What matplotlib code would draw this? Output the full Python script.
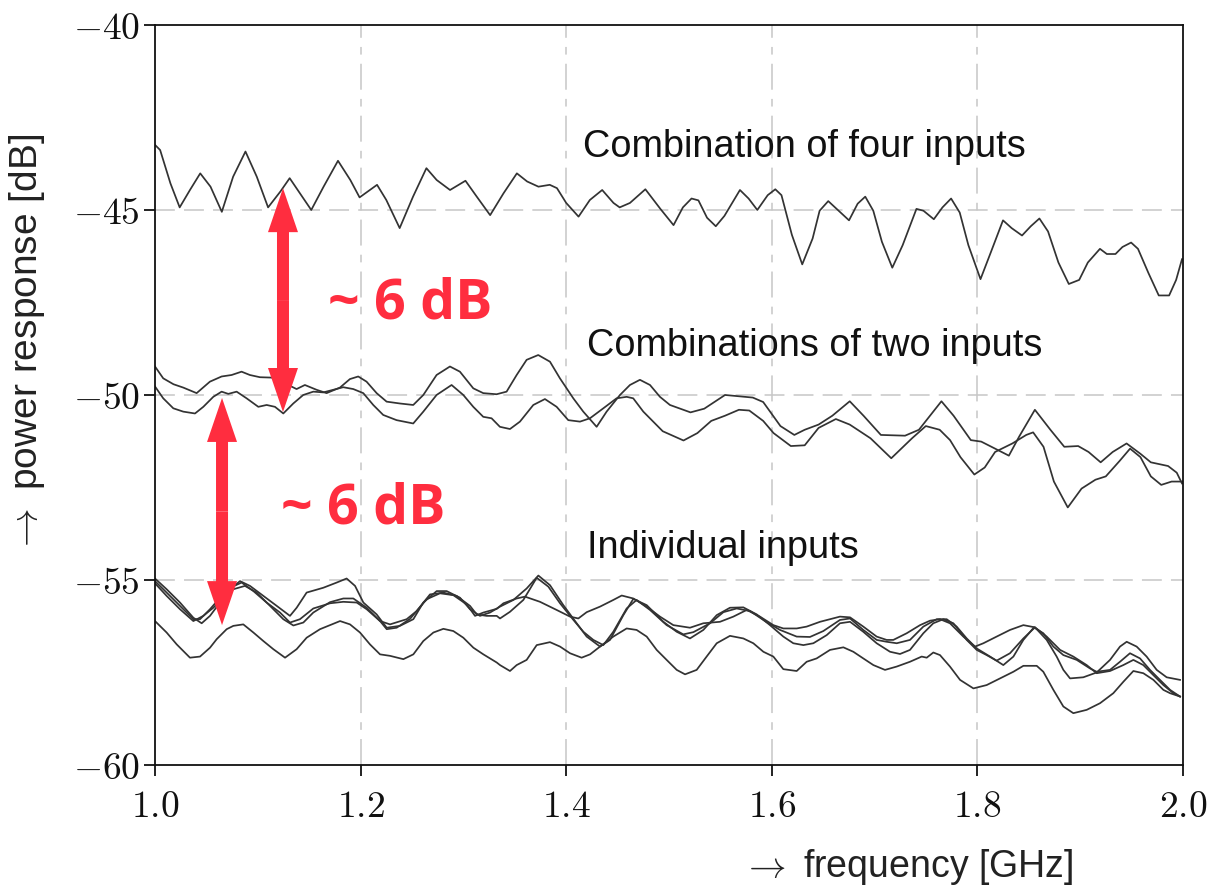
import matplotlib

matplotlib.use("Agg")
import matplotlib.pyplot as plt
from matplotlib.patches import FancyArrow
from matplotlib.ticker import FuncFormatter

plt.rcParams["mathtext.fontset"] = "cm"
plt.rcParams["font.family"] = ["Liberation Sans", "DejaVu Sans"]

# frequency [GHz] / power response [dB]
four_f = [1.000, 1.005, 1.015, 1.024, 1.034, 1.044, 1.054, 1.065, 1.076, 1.088,
          1.099, 1.110, 1.122, 1.131, 1.141, 1.152, 1.164, 1.178, 1.190, 1.199,
          1.216, 1.225, 1.238, 1.251, 1.264, 1.274, 1.287, 1.302, 1.313, 1.326,
          1.339, 1.352, 1.362, 1.373, 1.384, 1.391, 1.400, 1.412, 1.423, 1.435,
          1.446, 1.452, 1.462, 1.477,
          1.4916, 1.5044, 1.5135, 1.5219, 1.5286, 1.5370, 1.5455, 1.5539, 1.5690, 1.5774,
          1.5859, 1.5960, 1.6034, 1.6094, 1.6195, 1.6296, 1.6397, 1.6465, 1.6549, 1.6650,
          1.6751, 1.6835, 1.6909, 1.6987, 1.7071, 1.7172, 1.7273, 1.7407, 1.7475, 1.7576,
          1.7660, 1.7744, 1.7828, 1.7912, 1.8030, 1.8131, 1.8249, 1.8333, 1.8434, 1.8519,
          1.8603, 1.8687, 1.8788, 1.8889, 1.8990, 1.9074, 1.9192, 1.9259, 1.9343, 1.9411,
          1.9495, 1.9562, 1.9663, 1.9764, 1.9865, 1.9933, 1.9990]
four_db = [-43.24, -43.38, -44.28, -44.93, -44.46, -44.01, -44.37, -45.05, -44.10, -43.42,
           -44.10, -44.93, -44.50, -44.14, -44.55, -45.00, -44.37, -43.67, -44.19, -44.66,
           -44.32, -44.73, -45.49, -44.64, -43.87, -44.19, -44.46, -44.21, -44.64, -45.14,
           -44.55, -44.01, -44.23, -44.37, -44.32, -44.41, -44.81, -45.18, -44.73, -44.46,
           -44.81, -44.93, -44.81, -44.44,
           -44.97, -45.41, -44.93, -44.69, -44.74, -45.21, -45.44, -45.16, -44.46, -44.69,
           -45.00, -44.60, -44.44, -44.60, -45.67, -46.47, -45.77, -45.02, -44.76, -45.02,
           -45.28, -44.83, -44.64, -45.02, -45.86, -46.56, -45.95, -44.97, -45.02, -45.25,
           -44.93, -44.69, -45.07, -45.95, -46.87, -46.14, -45.28, -45.49, -45.69, -45.44,
           -45.23, -45.58, -46.42, -47.00, -46.89, -46.42, -46.05, -46.19, -46.19, -46.00,
           -45.88, -46.05, -46.70, -47.31, -47.31, -46.89, -46.33]

two_a_f = [1.000, 1.008, 1.018, 1.0275, 1.0405, 1.0534, 1.0648, 1.0745, 1.0842, 1.0923,
           1.1021, 1.1134, 1.1232, 1.1377, 1.1458, 1.1572, 1.1669, 1.1799, 1.1896, 1.1977,
           1.2058, 1.2156, 1.2253, 1.2383, 1.2512, 1.2610, 1.2739, 1.2869, 1.2966, 1.3096,
           1.3193, 1.3323, 1.3420, 1.3518, 1.3615, 1.3728, 1.3842, 1.3939, 1.4069, 1.4166,
           1.4296, 1.4393, 1.4523, 1.4620, 1.4717, 1.4815, 1.4912, 1.5009,
           1.5209, 1.5343, 1.5545, 1.5815, 1.5916, 1.6084, 1.6219, 1.6320, 1.6455, 1.6589,
           1.6758, 1.6892, 1.7061, 1.7296, 1.7431, 1.7650, 1.7768, 1.7936, 1.8037, 1.8172,
           1.8306, 1.8407, 1.8559, 1.8710, 1.8845, 1.8980, 1.9081, 1.9199, 1.9316, 1.9451,
           1.9586, 1.9687, 1.9855, 1.9939, 1.9990]
two_a_db = [-49.23, -49.55, -49.71, -49.80, -49.95, -49.64, -49.50, -49.46, -49.37, -49.46,
            -49.52, -49.53, -49.64, -49.84, -49.73, -49.86, -49.95, -49.80, -49.57, -49.50,
            -49.64, -49.95, -50.18, -50.23, -50.27, -50.00, -49.46, -49.23, -49.37, -49.82,
            -49.95, -49.98, -49.91, -49.46, -49.05, -48.92, -49.10, -49.55, -50.09, -50.45,
            -50.86, -50.45, -50.00, -49.73, -49.59, -49.73, -50.05, -50.27,
            -50.47, -50.37, -50.00, -50.07, -50.19, -50.84, -51.08, -50.94, -50.80, -50.56,
            -50.17, -50.56, -51.08, -51.10, -50.94, -50.17, -50.56, -51.22, -51.26, -51.45,
            -51.64, -51.12, -50.40, -50.94, -51.40, -51.38, -51.54, -51.82, -51.54, -51.31,
            -51.59, -51.82, -51.92, -52.10, -52.39]

two_b_f = [1.000, 1.008, 1.0178, 1.0275, 1.0389, 1.0470, 1.0567, 1.0648, 1.0713, 1.0794,
           1.0891, 1.1005, 1.1086, 1.1167, 1.1248, 1.1345, 1.1442, 1.1540, 1.1637, 1.1734,
           1.1831, 1.1929, 1.2026, 1.2123, 1.2220, 1.2350, 1.2512, 1.2610, 1.2739, 1.2885,
           1.2999, 1.3096, 1.3193, 1.3274, 1.3355, 1.3453, 1.3550, 1.3680, 1.3793, 1.3907,
           1.4020, 1.4134, 1.4231, 1.4361, 1.4490, 1.4588, 1.4652, 1.4750,
           1.4939, 1.5141, 1.5276, 1.5411, 1.5545, 1.5680, 1.5781, 1.5916, 1.6017, 1.6185,
           1.6320, 1.6455, 1.6623, 1.6758, 1.6960, 1.7162, 1.7364, 1.7498, 1.7633, 1.7734,
           1.7835, 1.7970, 1.8071, 1.8172, 1.8340, 1.8475, 1.8542, 1.8643, 1.8744, 1.8879,
           1.9013, 1.9148, 1.9249, 1.9384, 1.9485, 1.9586, 1.9687, 1.9788, 1.9889, 1.9990]
two_b_db = [-49.77, -50.09, -50.36, -50.45, -50.50, -50.32, -50.05, -49.91, -49.97, -49.91,
            -50.09, -50.32, -50.27, -50.32, -50.50, -50.23, -50.00, -49.91, -49.93, -49.86,
            -49.79, -49.84, -49.95, -50.27, -50.54, -50.68, -50.77, -50.45, -50.00, -49.73,
            -50.00, -50.32, -50.59, -50.63, -50.86, -50.92, -50.72, -50.27, -50.11, -50.32,
            -50.68, -50.72, -50.63, -50.36, -50.09, -50.05, -50.09, -50.45,
            -50.98, -51.23, -51.03, -50.70, -50.56, -50.40, -50.42, -50.70, -51.03, -51.38,
            -51.36, -50.89, -50.65, -50.80, -51.17, -51.71, -51.17, -50.84, -50.94, -51.22,
            -51.68, -52.15, -51.96, -51.54, -51.31, -51.08, -51.01, -51.40, -52.34, -53.04,
            -52.53, -52.29, -52.20, -51.78, -51.45, -51.68, -52.20, -52.43, -52.34, -52.34]

ind_1_f = [1.000, 1.0113, 1.0243, 1.0373, 1.0454, 1.0535, 1.0632, 1.0730, 1.0827, 1.0924,
           1.1054, 1.1184, 1.1313, 1.1378, 1.1475, 1.1637, 1.1767, 1.1864, 1.1946, 1.2027,
           1.2156, 1.2254, 1.2383, 1.2513, 1.2610, 1.2740, 1.2837, 1.2967, 1.3064, 1.3161,
           1.3259,
           1.3356, 1.3486, 1.3615, 1.3729, 1.3842, 1.3972, 1.4102, 1.4199, 1.4329, 1.4426,
           1.4556, 1.4653, 1.4783, 1.4945, 1.5075, 1.5204, 1.5334, 1.5464, 1.5593, 1.5723,
           1.5853, 1.5982, 1.6112, 1.6209, 1.6307, 1.6404, 1.6534, 1.6663,
           1.6761, 1.6890, 1.7020, 1.7150, 1.7247, 1.7344, 1.7474, 1.7571, 1.7669, 1.7766,
           1.7896, 1.7993, 1.8090, 1.8187, 1.8317, 1.8447, 1.8560, 1.8674, 1.8804, 1.8933,
           1.9063, 1.9160, 1.9290, 1.9419, 1.9517, 1.9614, 1.9711, 1.9809, 1.9906, 1.9971]
ind_1_db = [-54.96, -55.25, -55.61, -56.02, -56.17, -55.97, -55.61, -55.25, -55.03, -55.16,
            -55.43, -55.70, -55.97, -55.75, -55.34, -55.21, -55.07, -54.96, -55.16, -55.61,
            -55.93, -56.29, -56.24, -56.06, -55.61, -55.30, -55.30, -55.48, -55.79, -55.97,
            -55.88,
            -55.72, -55.54, -55.23, -54.88, -55.14, -55.68, -56.17, -56.53, -56.80, -56.62,
            -55.95, -55.51, -55.68, -56.13, -56.40, -56.58, -56.35, -55.95, -55.75, -55.74,
            -55.93, -56.22, -56.53, -56.71, -56.76, -56.71, -56.49, -56.17,
            -56.13, -56.40, -56.71, -56.94, -57.00, -56.89, -56.44, -56.17, -56.06, -56.17,
            -56.62, -56.89, -57.03, -57.18, -56.98, -56.58, -56.28, -56.53, -56.89, -57.07,
            -57.30, -57.52, -57.46, -57.30, -57.16, -57.30, -57.57, -57.84, -58.06, -58.15]

ind_2_f = [1.000, 1.0113, 1.0243, 1.0373, 1.0438, 1.0535, 1.0632, 1.0730, 1.0843, 1.0957,
           1.1086, 1.1216, 1.1313, 1.1410, 1.1540, 1.1702, 1.1832, 1.1962, 1.2059, 1.2189,
           1.2286, 1.2448, 1.2545, 1.2675, 1.2805, 1.2934, 1.3064, 1.3129, 1.3226, 1.3324,
           1.3356, 1.3453, 1.3583, 1.3713, 1.3826, 1.3940, 1.4070, 1.4167, 1.4264, 1.4361,
           1.4458, 1.4588, 1.4685, 1.4815, 1.4977, 1.5139, 1.5237, 1.5399, 1.5529, 1.5658,
           1.5788, 1.5950, 1.6080, 1.6242, 1.6371, 1.6501, 1.6663,
           1.6761, 1.6890, 1.7020, 1.7117, 1.7215, 1.7344, 1.7474, 1.7604, 1.7701, 1.7798,
           1.7896, 1.7993, 1.8123, 1.8252, 1.8350, 1.8447, 1.8550, 1.8641, 1.8739, 1.8836,
           1.8966, 1.9095, 1.9160, 1.9290, 1.9387, 1.9484, 1.9582, 1.9679, 1.9776, 1.9874,
           1.9971]
ind_2_db = [-55.03, -55.34, -55.70, -56.06, -56.06, -55.79, -55.48, -55.21, -55.07, -55.30,
            -55.61, -55.88, -56.15, -56.06, -55.77, -55.63, -55.59, -55.61, -55.79, -56.11,
            -56.20, -56.06, -55.84, -55.39, -55.34, -55.43, -55.70, -55.93, -55.97, -55.97,
            -56.04, -55.86, -55.54, -54.94, -55.18, -55.63, -56.08, -56.40, -56.62, -56.76,
            -56.40, -55.77, -55.54, -55.81, -56.22, -56.47, -56.41, -56.17, -55.87, -55.77,
            -55.84, -56.14, -56.35, -56.53, -56.54, -56.38, -56.08,
            -56.04, -56.35, -56.62, -56.67, -56.71, -56.62, -56.26, -56.06, -56.06, -56.26,
            -56.58, -56.85, -57.07, -57.30, -57.07, -56.62, -56.28, -56.44, -56.80, -57.03,
            -57.16, -57.39, -57.48, -57.43, -57.21, -56.98, -57.12, -57.43, -57.70, -57.97,
            -58.15]

ind_3_f = [1.000, 1.0113, 1.0243, 1.0373, 1.0470, 1.0567, 1.0665, 1.0762, 1.0875, 1.0989,
           1.1119, 1.1248, 1.1346, 1.1443, 1.1540, 1.1702, 1.1832, 1.1929, 1.2059, 1.2189,
           1.2254, 1.2351, 1.2481, 1.2643, 1.2772, 1.2902, 1.3032, 1.3113, 1.3194, 1.3324,
           1.3389, 1.3518, 1.3599, 1.3745, 1.3907, 1.4037, 1.4118, 1.4199, 1.4329, 1.4458,
           1.4540, 1.4653, 1.4783, 1.4912, 1.5042, 1.5204, 1.5334, 1.5496, 1.5626, 1.5756,
           1.5885, 1.6015, 1.6112, 1.6242, 1.6339, 1.6469, 1.6663,
           1.6761, 1.6890, 1.7020, 1.7117, 1.7182, 1.7312, 1.7442, 1.7539, 1.7636, 1.7733,
           1.7863, 1.7977, 1.8058, 1.8187, 1.8317, 1.8447, 1.8560, 1.8674, 1.8771, 1.8836,
           1.8901, 1.9030, 1.9160, 1.9290, 1.9387, 1.9452, 1.9549, 1.9646, 1.9744, 1.9841,
           1.9971]
ind_3_db = [-55.09, -55.43, -55.79, -56.11, -55.97, -55.75, -55.48, -55.25, -55.16, -55.34,
            -55.70, -56.06, -56.23, -56.15, -55.88, -55.60, -55.50, -55.50, -55.75, -56.11,
            -56.33, -56.29, -56.05, -55.52, -55.36, -55.41, -55.66, -55.97, -55.88, -55.78,
            -55.63, -55.50, -55.45, -55.59, -55.81, -55.99, -56.04, -55.87, -55.72, -55.54,
            -55.42, -55.50, -55.72, -55.99, -56.22, -56.29, -56.17, -56.13, -55.99, -55.81,
            -55.99, -56.22, -56.31, -56.31, -56.26, -56.13, -55.99,
            -56.01, -56.26, -56.53, -56.62, -56.62, -56.44, -56.22, -56.10, -56.06, -56.17,
            -56.53, -56.80, -56.71, -56.53, -56.35, -56.22, -56.28, -56.62, -57.07, -57.43,
            -57.66, -57.63, -57.50, -57.16, -56.80, -56.67, -56.80, -57.07, -57.43, -57.63,
            -57.70]

ind_4_f = [1.000, 1.0113, 1.0211, 1.0340, 1.0438, 1.0535, 1.0600, 1.0697, 1.0762, 1.0859,
           1.0957, 1.1054, 1.1151, 1.1265, 1.1378, 1.1475, 1.1605, 1.1800, 1.1897, 1.1994,
           1.2091, 1.2189, 1.2286, 1.2416, 1.2513, 1.2610, 1.2708, 1.2805, 1.2902, 1.2999,
           1.3097, 1.3194, 1.3324,
           1.3356, 1.3453, 1.3518, 1.3615, 1.3713, 1.3842, 1.3940, 1.4037, 1.4150, 1.4232,
           1.4329, 1.4458, 1.4588, 1.4685, 1.4783, 1.4880, 1.4977, 1.5075, 1.5156, 1.5269,
           1.5366, 1.5464, 1.5593, 1.5723, 1.5820, 1.5918, 1.6015, 1.6112, 1.6242, 1.6339,
           1.6436, 1.6566,
           1.6696, 1.6793, 1.6890, 1.6988, 1.7101, 1.7215, 1.7344, 1.7458, 1.7507, 1.7571,
           1.7636, 1.7733, 1.7831, 1.7961, 1.8090, 1.8220, 1.8350, 1.8447, 1.8577, 1.8641,
           1.8739, 1.8836, 1.8933, 1.9063, 1.9193, 1.9322, 1.9420, 1.9517, 1.9614, 1.9712,
           1.9809, 1.9874, 1.9971]
ind_4_db = [-56.11, -56.42, -56.74, -57.10, -57.07, -56.83, -56.60, -56.33, -56.24, -56.20,
            -56.42, -56.65, -56.87, -57.10, -56.87, -56.56, -56.33, -56.11, -56.20, -56.42,
            -56.74, -57.01, -57.05, -57.14, -57.01, -56.65, -56.42, -56.32, -56.38, -56.56,
            -56.83, -57.01, -57.23,
            -57.30, -57.46, -57.30, -57.16, -56.76, -56.68, -56.80, -56.98, -57.10, -57.01,
            -56.80, -56.53, -56.31, -56.35, -56.53, -56.89, -57.16, -57.43, -57.55, -57.43,
            -57.07, -56.71, -56.51, -56.58, -56.71, -56.94, -57.07, -57.41, -57.46, -57.21,
            -57.12, -56.89,
            -56.82, -56.94, -57.12, -57.30, -57.43, -57.34, -57.21, -57.07, -57.10, -56.96,
            -57.03, -57.34, -57.70, -57.93, -57.84, -57.66, -57.48, -57.32, -57.32, -57.48,
            -57.97, -58.42, -58.60, -58.51, -58.33, -58.06, -57.75, -57.46, -57.52, -57.70,
            -57.97, -58.06, -58.15]

curves = [
    (four_f, four_db),
    (two_a_f, two_a_db), (two_b_f, two_b_db),
    (ind_1_f, ind_1_db), (ind_2_f, ind_2_db), (ind_3_f, ind_3_db), (ind_4_f, ind_4_db),
]

x_ticks = [1.0, 1.2, 1.4, 1.6, 1.8, 2.0]
y_ticks = [-60, -55, -50, -45, -40]
x_grid = [1.2, 1.4, 1.6, 1.8]
y_grid = [-55, -50, -45]

group_labels = ["Combination of four inputs", "Combinations of two inputs", "Individual inputs"]
group_label_pos = [(1.4163, -43.57), (1.4202, -48.95), (1.4202, -54.41)]

# (x, top tip, bottom tip) of the red double arrows, and the text next to them
gap_arrows = [(1.1245, -44.41, -50.46), (1.0652, -50.08, -56.22)]
gap_texts = [(1.1683, -47.92), (1.1226, -53.46)]
gap_label = "~ 6 dB"

RED = "#ff2d3f"
GRID = "#c6c6c6"
LINE = "#333333"

fig = plt.figure(figsize=(12.1, 8.89), dpi=100)
ax = fig.add_axes([0.1281, 0.1395, 0.8496, 0.8324])
ax.set_xlim(1.0, 2.0)
ax.set_ylim(-60, -40)

for x in x_grid:
    ax.axvline(x, color=GRID, lw=1.1, linestyle=(0, (17, 6, 5, 6)), zorder=1)
for y in y_grid:
    ax.axhline(y, color=GRID, lw=1.1, linestyle=(0, (13, 6)), zorder=1)

for f, db in curves:
    ax.plot(f, db, color=LINE, lw=1.25, zorder=3, solid_joinstyle="round")

for text, (x, y) in zip(group_labels, group_label_pos):
    ax.text(x, y, text, fontsize=27.3, color="#111111", ha="left", va="baseline", zorder=4)

# arrow sizes in pixels converted to data units (1028 px per GHz, 37 px per dB)
shaft_w = 12 / 1028
head_w = 30 / 1028
head_l = 44 / 37
for x, top, bottom in gap_arrows:
    mid = (top + bottom) / 2
    for end in (top, bottom):
        ax.add_patch(FancyArrow(x, mid, 0, end - mid, width=shaft_w, head_width=head_w,
                                head_length=head_l, length_includes_head=True,
                                color=RED, lw=0, zorder=5))
for x, y in gap_texts:
    ax.text(x, y, gap_label, fontsize=40, fontweight="bold", family=["Open Sans", "DejaVu Sans"],
            color=RED, ha="left", va="baseline", zorder=5)

for side in ["left", "right", "top", "bottom"]:
    ax.spines[side].set_linewidth(1.3)
    ax.spines[side].set_color("#111111")
    ax.spines[side].set_zorder(6)

ax.set_xticks(x_ticks)
ax.set_yticks(y_ticks)
ax.xaxis.set_major_formatter(FuncFormatter(lambda v, p: r"$%.1f$" % v))
ax.yaxis.set_major_formatter(FuncFormatter(lambda v, p: r"$%d$" % v))
ax.tick_params(axis="both", direction="out", length=8, width=1.3, color="#111111",
               labelsize=27, labelcolor="#111111")
ax.tick_params(axis="x", pad=9)
ax.tick_params(axis="y", pad=3)

fig.text(27 / 1210, 1 - 343 / 889, r"$\rightarrow$ power response [dB]", rotation=90,
         fontsize=28, color="#222222", ha="center", va="center")
fig.text(1073 / 1210, (889 - 877) / 889, r"$\rightarrow$ frequency [GHz]",
         fontsize=27, color="#222222", ha="right", va="baseline")

fig.savefig("out.png", dpi=100)
